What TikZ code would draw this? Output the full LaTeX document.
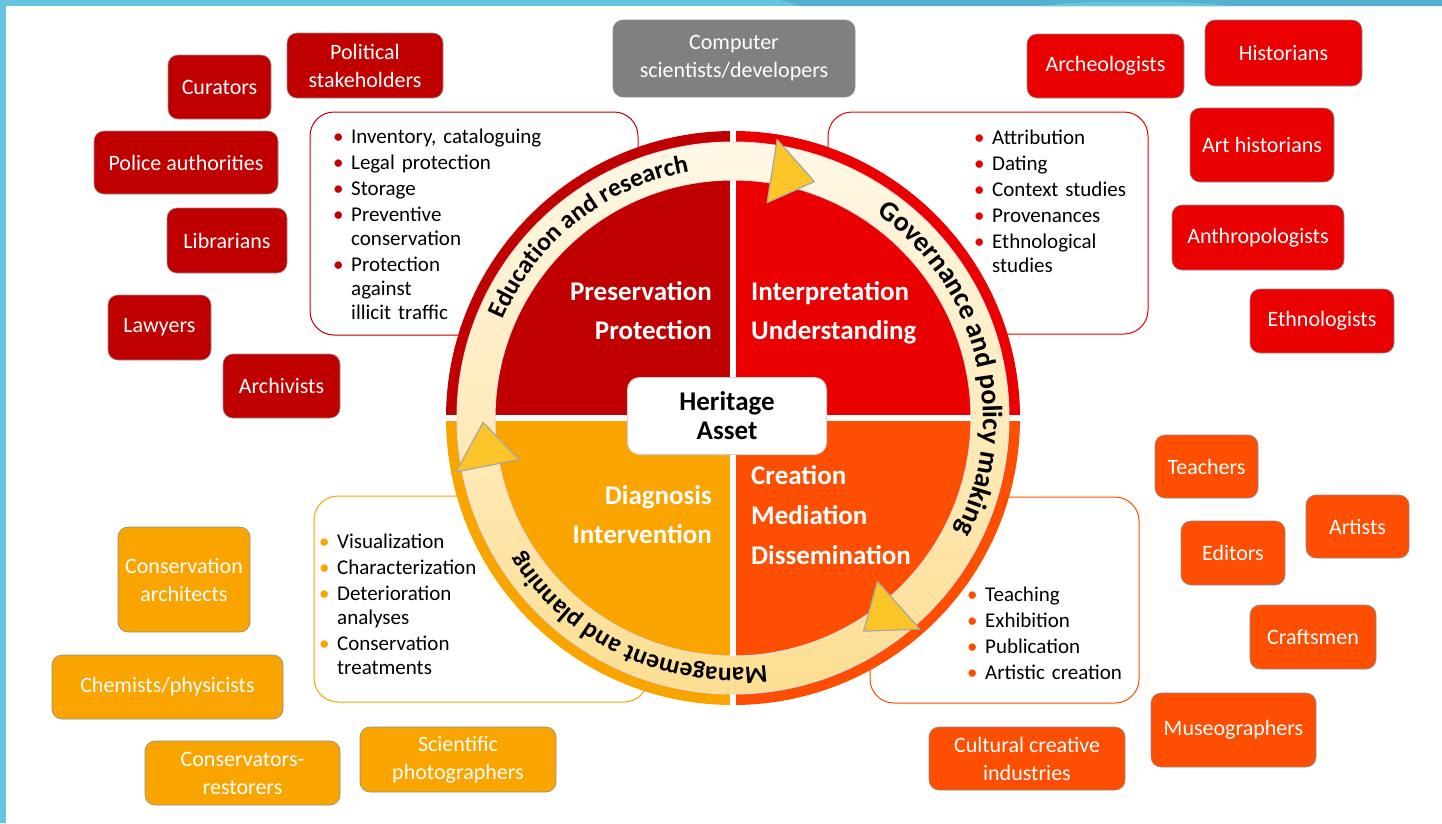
\documentclass[tikz,border=0pt]{standalone}
\usepackage{fontspec}
\setmainfont{Carlito}
\usetikzlibrary{calc,decorations.text}
\definecolor{cDark}{RGB}{192,0,0}
\definecolor{cRed}{RGB}{234,0,0}
\definecolor{cOrange}{RGB}{253,78,2}
\definecolor{cYellow}{RGB}{250,164,0}
\definecolor{cGray}{RGB}{128,128,128}
\definecolor{frameblue}{RGB}{101,196,222}
\definecolor{frameblueDark}{RGB}{86,176,208}
\definecolor{ringtop}{RGB}{255,248,230}
\definecolor{ringbot}{RGB}{253,222,145}
\definecolor{arrowyellow}{RGB}{251,196,40}
\newcommand\bitem[2]{\hangindent=18pt\hangafter=1\noindent\makebox[18pt][l]{\textcolor{#1}{\textbullet}}#2\par}
\begin{document}
\begin{tikzpicture}[x=1pt,y=1pt,
  sbox/.style={rounded corners=10pt, draw=black!45, line width=0.6pt, text=white, align=center, font=\fontsize{22}{28}\selectfont, inner sep=0pt},
  lbox/.style={rounded corners=24pt, fill=white, line width=1pt},
  quadtext/.style={text=white, font=\fontsize{27}{39}\selectfont\bfseries, inner sep=0pt},
  bullist/.style={inner sep=0pt, anchor=base west, align=left, text width=#1, font=\fontsize{21}{24}\selectfont},
  tri/.style={fill=arrowyellow, draw=black!35, line width=1.2pt, line join=round},
]
\useasboundingbox (0,0) rectangle (1442,-823);
\fill[white] (0,0) rectangle (1442,-823);
\fill[frameblue] (0,0) rectangle (1442,-6);
\fill[frameblueDark] (780,0) .. controls (790,-3) .. (800,-6) -- (1442,-6) -- (1442,0) -- cycle;
\fill[frameblue] (1040,-6) .. controls (1080,0) and (1190,0) .. (1230,-6) -- cycle;
\fill[frameblue] (0,0) rectangle (6,-823);

% bullet boxes
\draw[lbox, draw=cDark] (310,-112) rectangle (638,-335);
\draw[lbox, draw=cRed] (828,-112) rectangle (1148,-334);
\draw[lbox, draw=cYellow] (314,-496) rectangle (648,-702);
\draw[lbox, draw=cOrange] (870,-497) rectangle (1139,-703);

\node[bullist=290pt] (listPres) at (333,-143) {\setlength\parskip{2pt}%
\bitem{cDark}{Inventory, cataloguing}\bitem{cDark}{Legal protection}\bitem{cDark}{Storage}\bitem{cDark}{Preventive\newline conservation}\bitem{cDark}{Protection\newline against\newline illicit traffic}};
\node[bullist=160pt] (listInt) at (974,-144) {\setlength\parskip{2pt}%
\bitem{cRed}{Attribution}\bitem{cRed}{Dating}\bitem{cRed}{Context studies}\bitem{cRed}{Provenances}\bitem{cRed}{Ethnological\newline studies}};
\node[bullist=200pt] (listDiag) at (319,-548) {\setlength\parskip{2pt}%
\bitem{cYellow}{Visualization}\bitem{cYellow}{Characterization}\bitem{cYellow}{Deterioration\newline analyses}\bitem{cYellow}{Conservation\newline treatments}};
\node[bullist=200pt] (listCre) at (967,-601) {\setlength\parskip{2pt}%
\bitem{cOrange}{Teaching}\bitem{cOrange}{Exhibition}\bitem{cOrange}{Publication}\bitem{cOrange}{Artistic creation}};

% circle
\coordinate (c) at (733,-418);
\fill[cDark] (c) -- ++(90:287) arc[start angle=90,end angle=180,radius=287] -- cycle;
\fill[cRed] (c) -- ++(0:287) arc[start angle=0,end angle=90,radius=287] -- cycle;
\fill[cOrange] (c) -- ++(-90:287) arc[start angle=-90,end angle=0,radius=287] -- cycle;
\fill[cYellow] (c) -- ++(180:287) arc[start angle=180,end angle=270,radius=287] -- cycle;
\draw[white, line width=6pt] ($(c)+(0,290)$) -- ($(c)+(0,-290)$);
\draw[white, line width=6pt] ($(c)+(-290,0)$) -- ($(c)+(290,0)$);

\path[shade, top color=ringtop, bottom color=ringbot, even odd rule] (c) circle[radius=276] (c) circle[radius=238];
\draw[black!12, line width=1pt] (c) circle[radius=276] (c) circle[radius=238];

\foreach \t in {81,-48.5,191}
  \filldraw[tri] ($(c)+(\t:218)$) -- ($(c)+(\t:282)$) -- ($(c)+({\t-10}:250)$) -- cycle;

\path[decorate, decoration={text along path, text align=center, text={|\fontsize{25.5}{25.5}\selectfont\bfseries|Education and research}}] (c) ++(178.5:250) arc[start angle=178.5, end angle=78.5, radius=250];
\path[decorate, decoration={text along path, text align=center, text={|\fontsize{28}{28}\selectfont\bfseries|Governance and policy making}}] (c) ++(64:250) arc[start angle=64, end angle=-36, radius=250];
\path[decorate, decoration={text along path, text align=center, text={|\fontsize{25.5}{25.5}\selectfont\bfseries|Management and planning}}] (c) ++(-65:250) arc[start angle=-65, end angle=-165, radius=250];

\node[quadtext, anchor=base east, align=right] (qPres) at (712,-339) {Preservation\\Protection};
\node[quadtext, anchor=base west, align=left] (qInt) at (751,-339) {Interpretation\\Understanding};
\node[quadtext, anchor=base east, align=right] (qDiag) at (712,-543) {Diagnosis\\Intervention};
\node[quadtext, anchor=base west, align=left, font=\fontsize{27}{40}\selectfont\bfseries] (qCre) at (751,-564) {Creation\\Mediation\\Dissemination};

\node[draw=black!18, fill=white, rounded corners=12pt, minimum width=199pt, minimum height=77pt, line width=1pt, align=center, font=\fontsize{27}{29}\selectfont\bfseries, inner sep=0pt] (heritage) at (727,-416) {Heritage\\Asset};

% stakeholders
\node[sbox, fill=cDark, minimum width=103pt, minimum height=64pt] (curators) at (219.5,-87) {Curators};
\node[sbox, fill=cDark, minimum width=156pt, minimum height=65pt] (political) at (365,-65.5) {Political\\stakeholders};
\node[sbox, fill=cDark, minimum width=184pt, minimum height=63pt] (police) at (186,-162.5) {Police authorities};
\node[sbox, fill=cDark, minimum width=120pt, minimum height=65pt] (librarians) at (227,-240.5) {Librarians};
\node[sbox, fill=cDark, minimum width=103pt, minimum height=65pt] (lawyers) at (159.5,-327.5) {Lawyers};
\node[sbox, fill=cDark, minimum width=117pt, minimum height=64pt] (archivists) at (281.5,-386) {Archivists};

\node[sbox, fill=cGray, minimum width=242pt, minimum height=77pt] (computer) at (734,-58.5) {Computer\\scientists/developers};

\node[sbox, fill=cRed, minimum width=157pt, minimum height=64pt] (archeologists) at (1105.5,-66) {Archeologists};
\node[sbox, fill=cRed, minimum width=157pt, minimum height=66pt] (historians) at (1283.5,-53) {Historians};
\node[sbox, fill=cRed, minimum width=144pt, minimum height=74pt] (arthist) at (1262,-145) {Art historians};
\node[sbox, fill=cRed, minimum width=172pt, minimum height=65pt] (anthro) at (1258,-237.5) {Anthropologists};
\node[sbox, fill=cRed, minimum width=144pt, minimum height=64pt] (ethno) at (1322,-321) {Ethnologists};

\node[sbox, fill=cOrange, minimum width=103pt, minimum height=63pt] (teachers) at (1206.5,-466.5) {Teachers};
\node[sbox, fill=cOrange, minimum width=103pt, minimum height=63pt] (artists) at (1357.5,-526.5) {Artists};
\node[sbox, fill=cOrange, minimum width=104pt, minimum height=64pt] (editors) at (1233,-553) {Editors};
\node[sbox, fill=cOrange, minimum width=126pt, minimum height=64pt] (craftsmen) at (1313,-637) {Craftsmen};
\node[sbox, fill=cOrange, minimum width=165pt, minimum height=74pt] (museo) at (1233.5,-730) {Museographers};
\node[sbox, fill=cOrange, minimum width=196pt, minimum height=63pt] (cultural) at (1027,-758.5) {Cultural creative\\industries};

\node[sbox, fill=cYellow, minimum width=132pt, minimum height=105pt] (consarch) at (184,-579.5) {Conservation\\architects};
\node[sbox, fill=cYellow, minimum width=231pt, minimum height=64pt] (chemists) at (167.5,-687) {Chemists/physicists};
\node[sbox, fill=cYellow, minimum width=195pt, minimum height=64pt] (conservators) at (242.5,-773) {Conservators-\\restorers};
\node[sbox, fill=cYellow, minimum width=196pt, minimum height=65pt] (photographers) at (458,-759.5) {Scientific\\photographers};
\end{tikzpicture}
\end{document}
